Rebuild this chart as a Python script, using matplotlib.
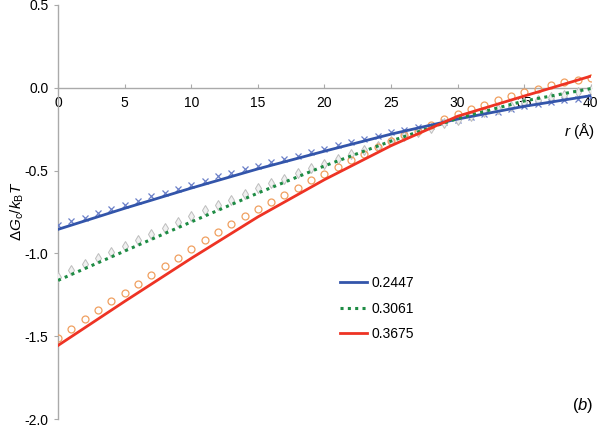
import matplotlib
matplotlib.use("Agg")
import matplotlib.pyplot as plt

plt.rcParams['font.family'] = ['Liberation Sans', 'DejaVu Sans']
plt.rcParams['mathtext.fontset'] = 'custom'
plt.rcParams['mathtext.rm'] = 'Liberation Sans'
plt.rcParams['mathtext.it'] = 'Liberation Sans:italic'

# ---- data ----
r_pts = list(range(0, 41))
sim_2447 = [-0.827, -0.807, -0.785, -0.755, -0.731, -0.705, -0.681, -0.655, -0.635, -0.611,
            -0.586, -0.560, -0.535, -0.514, -0.490, -0.470, -0.450, -0.428, -0.410, -0.390,
            -0.368, -0.345, -0.325, -0.307, -0.289, -0.269, -0.257, -0.237, -0.229, -0.209,
            -0.193, -0.175, -0.159, -0.145, -0.128, -0.112, -0.098, -0.088, -0.076, -0.066,
            -0.056]
sim_3061 = [-1.143, -1.102, -1.066, -1.028, -0.992, -0.956, -0.918, -0.881, -0.847, -0.811,
            -0.775, -0.741, -0.707, -0.675, -0.640, -0.607, -0.576, -0.548, -0.514, -0.487,
            -0.458, -0.430, -0.400, -0.374, -0.349, -0.319, -0.293, -0.265, -0.240, -0.215,
            -0.192, -0.170, -0.149, -0.128, -0.108, -0.089, -0.072, -0.058, -0.044, -0.028,
            -0.014]
sim_3675 = [-1.508, -1.454, -1.399, -1.343, -1.289, -1.237, -1.183, -1.128, -1.078, -1.026,
            -0.972, -0.922, -0.872, -0.821, -0.777, -0.735, -0.691, -0.646, -0.604, -0.558,
            -0.520, -0.476, -0.439, -0.400, -0.360, -0.322, -0.288, -0.259, -0.224, -0.190,
            -0.159, -0.128, -0.102, -0.076, -0.052, -0.028, -0.006, 0.014, 0.032, 0.046,
            0.058]

r_fit = [0, 5, 10, 15, 20, 25, 30, 35, 40]
fit_2447 = [-0.855, -0.728, -0.606, -0.490, -0.383, -0.280, -0.189, -0.112, -0.048]
fit_3061 = [-1.163, -0.986, -0.810, -0.636, -0.472, -0.322, -0.185, -0.080, -0.005]
fit_3675 = [-1.556, -1.290, -1.030, -0.780, -0.555, -0.350, -0.172, -0.050, 0.070]

labels = ['0.2447', '0.3061', '0.3675']
x_ticks = [0, 5, 10, 15, 20, 25, 30, 35, 40]
y_ticks = [0.5, 0.0, -0.5, -1.0, -1.5, -2.0]

# ---- figure ----
fig = plt.figure(figsize=(6.0, 4.26), dpi=100)
ax = fig.add_axes([0.0967, 0.0164, 0.888, 0.972])

blue = '#3355aa'
green = '#1e8c44'
red = '#ee3324'

ax.plot(r_pts, sim_2447, linestyle='none', marker='x', ms=4.5, mew=0.9,
        color='#6a7fc8', zorder=3)
ax.plot(r_pts, sim_3061, linestyle='none', marker='d', ms=4.6, mew=0.7,
        mfc='#f0f0f0', mec='#bdbdbd', zorder=3)
ax.plot(r_pts, sim_3675, linestyle='none', marker='o', ms=5.0, mew=0.9,
        mfc='none', mec='#f0a060', zorder=3)

l1, = ax.plot(r_fit, fit_2447, color=blue, lw=2.0, label=labels[0], zorder=4)
l2, = ax.plot(r_fit, fit_3061, color=green, lw=2.2, linestyle=(0, (1, 1.4)),
              label=labels[1], zorder=4)
l3, = ax.plot(r_fit, fit_3675, color=red, lw=2.0, label=labels[2], zorder=4)

ax.set_xlim(0, 40)
ax.set_ylim(-2.0, 0.5)

for s in ['top', 'right']:
    ax.spines[s].set_visible(False)
ax.spines['bottom'].set_position(('data', 0))
ax.spines['left'].set_color('#aaaaaa')
ax.spines['bottom'].set_color('#aaaaaa')
ax.spines['left'].set_linewidth(1.0)
ax.spines['bottom'].set_linewidth(1.0)

ax.set_xticks(x_ticks)
ax.set_yticks(y_ticks)
ax.set_yticklabels(['%.1f' % v for v in y_ticks])
ax.tick_params(axis='x', direction='in', length=3, color='#aaaaaa',
               labelsize=10, pad=6)
ax.tick_params(axis='y', direction='out', length=3, color='#aaaaaa',
               labelsize=10, pad=4)

ax.text(40.3, -0.26, r'$r$ (Å)', fontsize=11, ha='right', va='center')
fig.text(0.028, 0.505, r'$\Delta G_{\rm c}/k_{\rm B}T$', rotation=90,
         fontsize=11, ha='center', va='center')
ax.text(40.2, -1.92, r'$(b)$', fontsize=12, ha='right', va='center')

leg = ax.legend(handles=[l1, l2, l3], loc='upper left',
                bbox_to_anchor=(0.505, 0.375), frameon=False, fontsize=10,
                handlelength=2.0, handletextpad=0.3, labelspacing=0.82)

fig.savefig('out.png', dpi=100)
